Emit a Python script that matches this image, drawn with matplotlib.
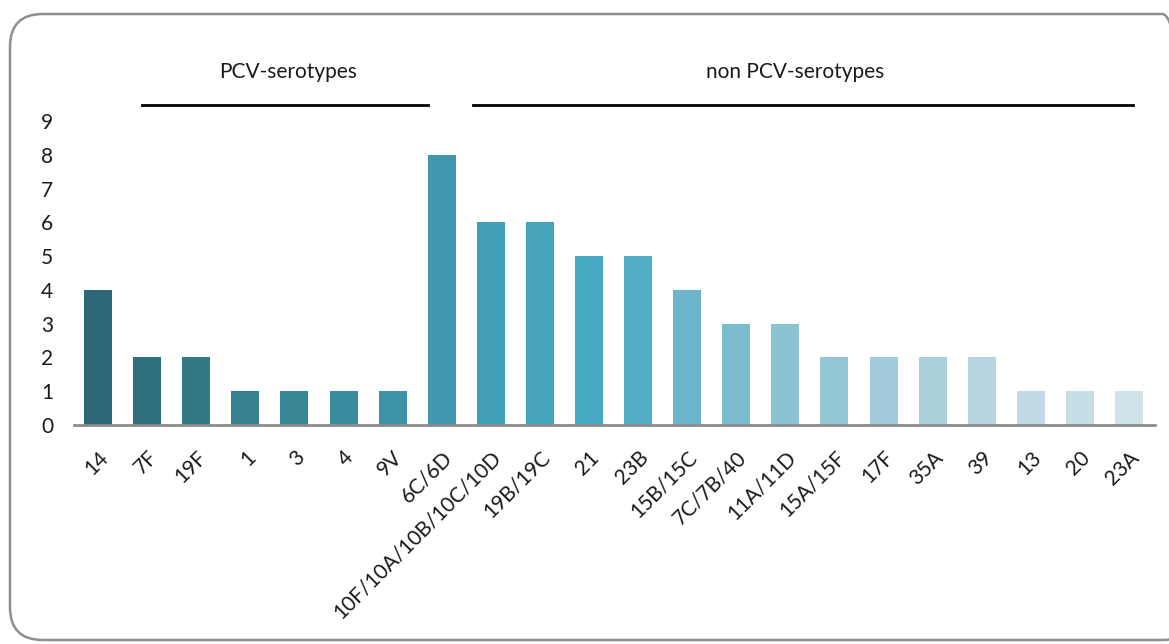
import matplotlib.pyplot as plt
from matplotlib.patches import FancyBboxPatch

# Serotype counts
serotypes = ['14', '7F', '19F', '1', '3', '4', '9V', '6C/6D',
             '10F/10A/10B/10C/10D', '19B/19C', '21', '23B', '15B/15C',
             '7C/7B/40', '11A/11D', '15A/15F', '17F', '35A', '39',
             '13', '20', '23A']
counts = [4, 2, 2, 1, 1, 1, 1, 8, 6, 6, 5, 5, 4, 3, 3, 2, 2, 2, 2, 1, 1, 1]
bar_colors = ['#2c6878', '#2f6f80', '#327886', '#358190', '#378797', '#3a8d9f',
              '#3d92a5', '#3f98ae', '#42a0b6', '#44a4bb', '#47a9c1', '#52aec6',
              '#6cb5cb', '#7cbccf', '#8bc3d5', '#95c6d6', '#a0cbda', '#aad0dc',
              '#b6d5e0', '#bfdae4', '#c6dfe7', '#cfe3ea']

# Group brackets: (label, start, end, label centre) in bar positions
groups = [('PCV-serotypes', 0.9, 6.72, 3.87), ('non PCV-serotypes', 7.64, 21.08, 14.2)]

plt.rcParams['font.family'] = ['Lato', 'DejaVu Sans']

fig = plt.figure(figsize=(11.69, 6.44), dpi=100)
ax = fig.add_axes([74 / 1169, 219 / 644, (1155 - 74) / 1169, 304 / 644])

x = list(range(len(serotypes)))
ax.bar(x, counts, width=0.57, color=bar_colors, zorder=2)

ax.set_xlim(-0.49, 21.53)
ax.set_ylim(0, 9)
ax.set_yticks(range(0, 10))
ax.set_xticks(x)
ax.set_xticklabels(serotypes, rotation=45, ha='right', rotation_mode='anchor')
ax.tick_params(axis='both', length=0, labelsize=15, colors='#1a1a1a')
ax.tick_params(axis='y', pad=15)
ax.tick_params(axis='x', pad=16)

for s in ['top', 'right', 'left']:
    ax.spines[s].set_visible(False)
ax.spines['bottom'].set_color('#8c8c8c')
ax.spines['bottom'].set_linewidth(2)

for label, start, end, mid in groups:
    ax.plot([start, end], [9.47, 9.47], color='black', lw=2, clip_on=False)
    ax.text(mid, 10.44, label, ha='center', va='center', fontsize=15, color='#1a1a1a')

# rounded frame around the chart (runs off the right edge)
frame = FancyBboxPatch((10 / 1169, 4 / 644), 1185 / 1169, 626 / 644,
                       boxstyle='round,pad=0,rounding_size=0.028',
                       transform=fig.transFigure, fill=False,
                       edgecolor='#8f8f8f', linewidth=1.8, mutation_aspect=1169 / 644)
fig.patches.append(frame)

fig.savefig('out.png', dpi=100)
